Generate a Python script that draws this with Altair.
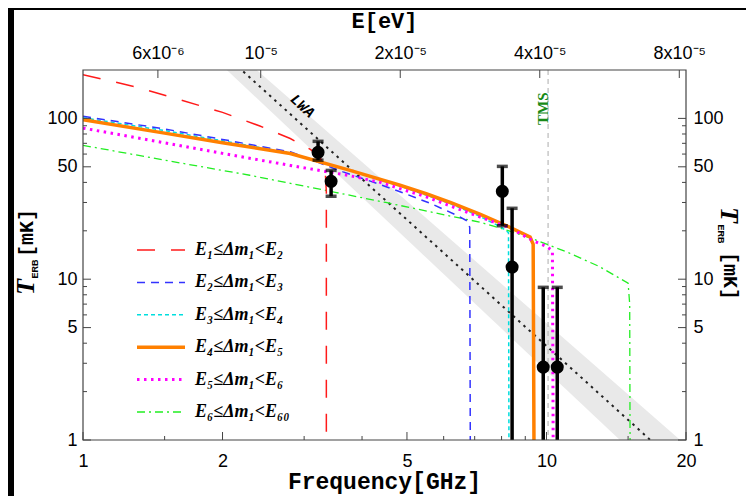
import altair as alt
import pandas as pd

# ---------------- data ----------------
series_keys = ["E1", "E2", "E3", "E4", "E5", "E6"]
legend_labels = ["E₁≤Δm₁<E₂", "E₂≤Δm₁<E₃", "E₃≤Δm₁<E₄",
                 "E₄≤Δm₁<E₅", "E₅≤Δm₁<E₆", "E₆≤Δm₁<E₆₀"]

# frequency [GHz] and T_ERB [mK] for every curve
red_f = [1.0, 1.3, 1.6, 2.0, 2.4, 2.8, 3.1, 3.25, 3.33, 3.35, 3.35]
red_T = [187, 157, 132, 109, 90, 75, 64, 57, 48, 35, 0.8]

blue_f = [1.0, 1.5, 2.0, 2.8, 3.64, 4.3, 4.83, 5.62, 6.4, 6.75, 6.83, 6.85]
blue_T = [103, 86, 74, 62, 46.5, 39.5, 35, 29.6, 25, 23, 21, 0.8]

cyan_f = [1.0, 1.5, 2.0, 2.8, 3.77, 4.83, 6.2, 7.2, 8.0, 8.28, 8.3]
cyan_T = [101, 84, 72.5, 61, 47.5, 38, 29.5, 24.5, 21, 19.5, 0.8]

orange_f = [1.0, 1.5, 2.0, 2.8, 3.77, 4.83, 5.5, 6.2, 7.2, 8.2, 9.22, 9.36, 9.4]
orange_T = [98, 81, 70.5, 60.5, 47.5, 38.4, 34, 30, 25.3, 21.5, 18.3, 16.5, 0.8]

magenta_f = [1.0, 1.5, 2.0, 2.8, 3.77, 4.38, 5.5, 7.2, 8.3, 9.3, 10.0, 10.3, 10.34]
magenta_T = [87, 70.5, 60.6, 51, 44, 40, 32.5, 24.3, 21, 17.5, 16, 15, 0.8]

green_f = [1.0, 1.5, 2.29, 3.5, 4.5, 6.2, 7.2, 8.3, 9.4, 11.1, 13.0, 15.0, 15.12, 15.15]
green_T = [68, 55, 44.3, 34.7, 30, 24.7, 22.6, 20, 17.7, 14.7, 12.0, 9.45, 7, 0.8]

# LWA line and its uncertainty band
lwa_f = [2.0, 20.0]
lwa_mid = [256, 0.63]
lwa_lo = [212, 0.41]
lwa_hi = [307, 0.93]

# measured points with error bars
pt_f = [3.215, 3.43, 8.03, 8.43, 9.84, 10.55]
pt_T = [61.5, 40.6, 35.2, 11.9, 2.84, 2.84]
pt_lo = [55, 32.8, 21.5, 0.5, 0.5, 0.5]
pt_hi = [72, 47.5, 50.3, 27.6, 8.9, 8.9]

# annotations
TMS_F = 10.08
TMS_LABEL_F, TMS_LABEL_T = 9.83, 115
LWA_LABEL_F, LWA_LABEL_T = 2.98, 120

# axis ticks
x_major = [1, 2, 5, 10, 20]
x_minor = [1.5, 3, 4, 6, 7, 8, 9, 15]
y_major = [1, 5, 10, 50, 100]
y_minor = [2, 3, 4, 6, 7, 8, 9, 20, 30, 40, 60, 70, 80, 90]
e_major = [6e-6, 1e-5, 2e-5, 4e-5, 8e-5]
H_EV_PER_GHZ = 4.135667e-6

# ---------------- layout / style ----------------
W, H = 603, 370


def xs():
    return alt.Scale(type="log", domain=[1, 20], nice=False)


def ys():
    return alt.Scale(type="log", domain=[1, 200], nice=False)


es = alt.Scale(type="log", domain=[1 * H_EV_PER_GHZ, 20 * H_EV_PER_GHZ], nice=False)

styles = {
    "E1": dict(color="#ff1a1a", dash=[18, 16], width=1.5),
    "E2": dict(color="#3333ff", dash=[8, 6], width=1.5),
    "E3": dict(color="#00dede", dash=[4, 3], width=1.5),
    "E4": dict(color="#ff8000", dash=None, width=3.5),
    "E5": dict(color="#ff00ff", dash=[2.5, 4.5], width=3),
    "E6": dict(color="#22ee22", dash=[8, 4, 2, 4], width=1.3),
}
curve_data = {
    "E1": (red_f, red_T), "E2": (blue_f, blue_T), "E3": (cyan_f, cyan_T),
    "E4": (orange_f, orange_T), "E5": (magenta_f, magenta_T), "E6": (green_f, green_T),
}

dummy = pd.DataFrame({"d": [0]})


def line_mark(key):
    st = styles[key]
    kw = dict(clip=True, color=st["color"], strokeWidth=st["width"], strokeCap="butt")
    if st["dash"]:
        kw["strokeDash"] = st["dash"]
    return kw


def curve_layer(key):
    f, T = curve_data[key]
    df = pd.DataFrame({"i": range(len(f)), "f": f, "T": T})
    return alt.Chart(df).mark_line(**line_mark(key)).encode(
        x=alt.X("f:Q", scale=xs(), axis=None),
        y=alt.Y("T:Q", scale=ys(), axis=None),
        order="i:Q",
    )


def text_at(txt, x, y, size, font, weight="bold", style="normal", angle=0, color="black", align="center"):
    return alt.Chart(dummy).mark_text(
        text=txt, font=font, fontSize=size, fontWeight=weight, fontStyle=style,
        angle=angle, color=color, align=align, baseline="middle",
    ).encode(x=alt.value(x), y=alt.value(y))


TICK_COLOR = "#444444"


def y_ticks(values, x0, x1, scale, axis=None):
    return alt.Chart(pd.DataFrame({"v": values})).mark_rule(color=TICK_COLOR, strokeWidth=1).encode(
        y=alt.Y("v:Q", scale=scale, axis=axis), x=alt.value(x0), x2=alt.value(x1))


def x_ticks(values, y0, y1, scale, axis=None):
    return alt.Chart(pd.DataFrame({"v": values})).mark_rule(color=TICK_COLOR, strokeWidth=1).encode(
        x=alt.X("v:Q", scale=scale, axis=axis), y=alt.value(y0), y2=alt.value(y1))


# white page area over the black background
white = alt.Chart(dummy).mark_rect(color="white").encode(
    x=alt.value(-69), x2=alt.value(W + 80), y=alt.value(-60), y2=alt.value(H + 60))

lwa_df = pd.DataFrame({"f": lwa_f, "mid": lwa_mid, "lo": lwa_lo, "hi": lwa_hi})
band = alt.Chart(lwa_df).mark_area(clip=True, color="#e9e9e9").encode(
    x=alt.X("f:Q", scale=xs(), axis=None),
    y=alt.Y("lo:Q", scale=ys(), axis=None), y2="hi:Q")
lwa_line = alt.Chart(lwa_df).mark_line(clip=True, color="#222222", strokeDash=[2.5, 4.5], strokeWidth=2).encode(
    x=alt.X("f:Q", scale=xs(), axis=None), y=alt.Y("mid:Q", scale=ys(), axis=None))

tms_rule = alt.Chart(dummy).mark_rule(color="#bbbbbb", strokeDash=[5, 4], strokeWidth=1.2).encode(
    x=alt.X(datum=TMS_F, scale=xs(), axis=None))

pts = pd.DataFrame({"f": pt_f, "T": pt_T, "lo": pt_lo, "hi": pt_hi})
errbars = alt.Chart(pts).mark_rule(clip=True, color="black", strokeWidth=3.5).encode(
    x=alt.X("f:Q", scale=xs(), axis=None), y=alt.Y("lo:Q", scale=ys(), axis=None), y2="hi:Q")
caps_hi = alt.Chart(pts).mark_tick(orient="horizontal", color="black", size=11, thickness=3.5).encode(
    x=alt.X("f:Q", scale=xs(), axis=None), y=alt.Y("hi:Q", scale=ys(), axis=None))
caps_lo = alt.Chart(pts).transform_filter("datum.lo >= 1").mark_tick(
    orient="horizontal", color="black", size=11, thickness=3.5).encode(
    x=alt.X("f:Q", scale=xs(), axis=None), y=alt.Y("lo:Q", scale=ys(), axis=None))
points = alt.Chart(pts).mark_circle(color="black", opacity=1, size=170).encode(
    x=alt.X("f:Q", scale=xs(), axis=None), y=alt.Y("T:Q", scale=ys(), axis=None))

tms_text = alt.Chart(dummy).mark_text(
    text="TMS", font="Liberation Serif", fontWeight="bold", fontSize=15, angle=270,
    color="#178a17", align="center", baseline="middle").encode(
    x=alt.X(datum=TMS_LABEL_F, scale=xs(), axis=None), y=alt.Y(datum=TMS_LABEL_T, scale=ys(), axis=None))
lwa_text = alt.Chart(dummy).mark_text(
    text="LWA", font="Liberation Mono", fontWeight="bold", fontStyle="italic", fontSize=15, angle=42,
    color="black", align="center", baseline="middle").encode(
    x=alt.X(datum=LWA_LABEL_F, scale=xs(), axis=None), y=alt.Y(datum=LWA_LABEL_T, scale=ys(), axis=None))

# legend (drawn by hand inside the plot)
legend_layers = []
for k, (key, lab) in enumerate(zip(series_keys, legend_labels)):
    py = 180 + 32.4 * k
    legend_layers.append(alt.Chart(dummy).mark_rule(**{kk: v for kk, v in line_mark(key).items() if kk != "clip"}).encode(
        x=alt.value(54), x2=alt.value(102), y=alt.value(py)))
    legend_layers.append(text_at(lab, 112, py, 18, "Liberation Serif", style="italic", align="left"))

# titles
titles = [
    text_at("Frequency[GHz]", W / 2, 412, 23, "Liberation Mono"),
    text_at("E[eV]", W / 2, -49, 22, "Liberation Mono"),
    text_at("T", -57, 217, 26, "Liberation Serif", style="italic", angle=270),
    text_at("ERB", -48, 199, 9, "Liberation Sans", angle=270),
    text_at("[mK]", -56, 163, 20, "Liberation Mono", angle=270),
    text_at("T", 646, 145, 26, "Liberation Serif", style="italic", angle=90),
    text_at("ERB", 638, 164, 9, "Liberation Sans", angle=90),
    text_at("[mK]", 647, 206, 20, "Liberation Mono", angle=90),
]

common_axis = dict(ticks=False, tickSize=0, domain=False, grid=False, labelFlush=False, title=None,
                   zindex=2, labelFont="Liberation Sans", labelFontSize=18, labelColor="black")
x_axis = alt.Axis(values=x_major, format="~g", orient="bottom", labelPadding=12, **common_axis)
yl_axis = alt.Axis(values=y_major, format="d", orient="left", labelPadding=6, **common_axis)
yr_axis = alt.Axis(values=y_major, format="d", orient="right", labelPadding=7, **common_axis)
top_axis = alt.Axis(values=e_major, orient="top", labelPadding=8,
                    labelExpr="datum.value < 8e-6 ? '6x10⁻⁶' : datum.value < 1.5e-5 ? '10⁻⁵' : "
                              "datum.value < 3e-5 ? '2x10⁻⁵' : datum.value < 6e-5 ? '4x10⁻⁵' : '8x10⁻⁵'",
                    **common_axis)

tick_layers = [
    x_ticks(x_major, H - 8, H, xs(), axis=x_axis),
    x_ticks(x_minor, H - 4, H, xs()),
    y_ticks(y_major, 0, 8, ys(), axis=yl_axis),
    y_ticks(y_minor, 0, 4, ys()),
    x_ticks(e_major, 0, 8, es, axis=top_axis),
    y_ticks(y_major, W - 8, W, ys(), axis=yr_axis),
    y_ticks(y_minor, W - 4, W, ys()),
]

frame = alt.Chart(dummy).mark_rect(fill=None, fillOpacity=0, stroke="#444444", strokeWidth=1.2).encode(
    x=alt.value(0), x2=alt.value(W), y=alt.value(0), y2=alt.value(H))

curve_order = ["E6", "E3", "E2", "E4", "E5", "E1"]
chart = alt.layer(
    white, band, lwa_line, tms_rule,
    *[curve_layer(k) for k in curve_order],
    errbars, caps_hi, caps_lo, points, tms_text, lwa_text,
    *legend_layers, *titles, *tick_layers, frame,
).resolve_scale(
    x="independent", y="independent"
).properties(
    width=W, height=H,
    autosize=alt.AutoSizeParams(type="none"),
    padding={"left": 75, "top": 62, "right": 60, "bottom": 56},
    background="black",
).configure_view(stroke=None)

chart.save("out.html", embed_options={"renderer": "svg", "actions": False})
